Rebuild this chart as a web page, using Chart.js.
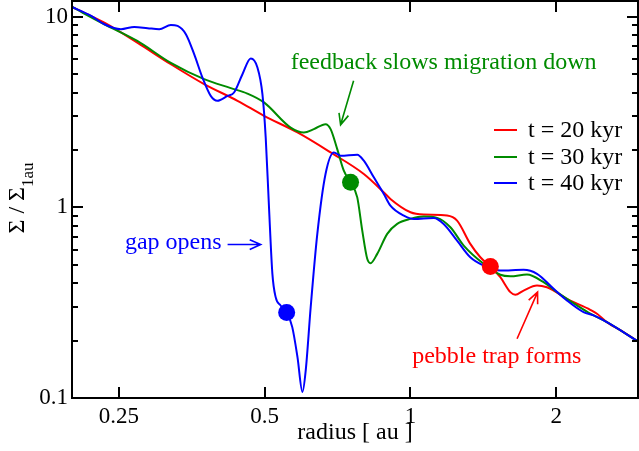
<!DOCTYPE html>
<html>
<head>
<meta charset="utf-8">
<script src="https://cdn.jsdelivr.net/npm/chart.js@4.4.1/dist/chart.umd.min.js"></script>
<style>
  html, body { margin: 0; padding: 0; background: #fff; }
  canvas { display: block; }
</style>
</head>
<body>
<canvas id="sigmaChart" width="639" height="451"></canvas>
<script>
// radius [au] and surface density (normalised to 1 au)
const redR = [0.2, 0.2333, 0.2728, 0.32, 0.3748, 0.4393, 0.4983, 0.5843, 0.684, 0.801, 0.881, 0.909, 1.0, 1.065, 1.19, 1.248, 1.329, 1.394, 1.462, 1.533, 1.608, 1.646, 1.712, 1.825, 1.913, 1.975, 2.104, 2.351, 2.427, 2.544, 2.753, 2.966];
const redS = [11.24, 9.30, 7.31, 5.63, 4.43, 3.62, 3.02, 2.47, 1.941, 1.496, 1.198, 1.107, 0.942, 0.916, 0.905, 0.852, 0.643, 0.547, 0.489, 0.430, 0.359, 0.348, 0.366, 0.389, 0.381, 0.366, 0.331, 0.290, 0.2767, 0.250, 0.2216, 0.1964];

const greenR = [0.2, 0.2333, 0.2728, 0.32, 0.3748, 0.4254, 0.4605, 0.4983, 0.5656, 0.6024, 0.6316, 0.6677, 0.684, 0.7059, 0.7283, 0.752, 0.7764, 0.7951, 0.8141, 0.827, 0.8536, 0.8953, 0.9388, 1.0, 1.065, 1.135, 1.209, 1.288, 1.416, 1.533, 1.608, 1.74, 1.883, 2.007, 2.207, 2.351, 2.544, 2.966];
const greenS = [11.24, 9.12, 7.46, 5.72, 4.70, 4.22, 3.95, 3.55, 2.62, 2.47, 2.57, 2.73, 2.57, 2.02, 1.556, 1.352, 1.128, 0.755, 0.537, 0.509, 0.570, 0.7257, 0.8186, 0.8695, 0.894, 0.880, 0.786, 0.630, 0.5054, 0.4427, 0.435, 0.444, 0.405, 0.359, 0.3057, 0.2767, 0.250, 0.1964];

const blueR = [0.2, 0.2191, 0.2333, 0.2524, 0.2689, 0.2865, 0.3028, 0.32, 0.3304, 0.3437, 0.3575, 0.3719, 0.3868, 0.3993, 0.4189, 0.4322, 0.4498, 0.4679, 0.483, 0.4946, 0.5024, 0.5103, 0.5186, 0.5267, 0.5392, 0.5548, 0.57, 0.5843, 0.5983, 0.6077, 0.6222, 0.6421, 0.6677, 0.6947, 0.7173, 0.7764, 0.801, 0.84, 0.881, 0.909, 0.969, 1.016, 1.117, 1.171, 1.248, 1.329, 1.416, 1.533, 1.712, 1.825, 1.975, 2.104, 2.277, 2.388, 2.544, 2.966];
const blueS = [11.24, 10.09, 9.12, 8.59, 8.83, 8.70, 8.59, 9.05, 8.94, 8.09, 6.36, 4.79, 3.84, 3.62, 3.84, 4.00, 4.99, 6.03, 5.41, 3.92, 2.32, 1.0, 0.448, 0.338, 0.3057, 0.282, 0.2353, 0.1639, 0.1075, 0.1396, 0.2996, 0.7257, 1.496, 1.941, 1.865, 1.888, 1.756, 1.436, 1.175, 1.021, 0.905, 0.8695, 0.880, 0.8186, 0.669, 0.547, 0.495, 0.466, 0.470, 0.448, 0.374, 0.3248, 0.282, 0.271, 0.250, 0.1964];

// planet positions (filled circles)
const planetR = [1.462, 0.752, 0.555];
const planetS = [0.489, 1.352, 0.281];

const seriesLabels = ["t = 20 kyr", "t = 30 kyr", "t = 40 kyr"];
const seriesColors = ["#ff0000", "#008b00", "#0000ff"];

const xTicks = [0.25, 0.5, 1, 2];
const yTicks = [0.1, 1, 10];
const yMinor = [0.2, 0.3, 0.4, 0.5, 0.6, 0.7, 0.8, 0.9, 2, 3, 4, 5, 6, 7, 8, 9];

const FONT = "'Liberation Serif', 'Times New Roman', serif";
Chart.defaults.font.family = FONT;
Chart.defaults.color = "#000";

const toPoints = (rs, ss) => rs.map((r, i) => ({ x: r, y: ss[i] }));

// annotation texts and arrows, anchored in data coordinates
const notes = [
  { text: "feedback slows migration down", color: seriesColors[1], at: [0.5656, 5.32], arrow: [[0.763, 4.61], [0.7173, 2.71]] },
  { text: "gap opens", color: seriesColors[2], at: [0.2572, 0.6057], arrow: [[0.4191, 0.6378], [0.4905, 0.6378]] },
  { text: "pebble trap forms", color: seriesColors[0], at: [1.008, 0.152], arrow: [[1.66, 0.2046], [1.83, 0.359]] },
];

function drawArrow(ctx, x1, y1, x2, y2) {
  const ang = Math.atan2(y2 - y1, x2 - x1);
  const len = 12, spread = 0.42;
  ctx.beginPath();
  ctx.moveTo(x1, y1);
  ctx.lineTo(x2, y2);
  ctx.moveTo(x2 - len * Math.cos(ang - spread), y2 - len * Math.sin(ang - spread));
  ctx.lineTo(x2, y2);
  ctx.lineTo(x2 - len * Math.cos(ang + spread), y2 - len * Math.sin(ang + spread));
  ctx.stroke();
}

const decorations = {
  id: "decorations",
  afterDatasetsDraw(chart) {
    const { ctx, chartArea: a, scales: { x, y } } = chart;
    ctx.save();

    // frame
    ctx.strokeStyle = "#000";
    ctx.lineWidth = 2;
    ctx.strokeRect(a.left, a.top, a.right - a.left, a.bottom - a.top);

    // inward tick marks on all four sides
    ctx.beginPath();
    xTicks.forEach(v => {
      const px = Math.round(x.getPixelForValue(v));
      ctx.moveTo(px, a.bottom); ctx.lineTo(px, a.bottom - 11);
      ctx.moveTo(px, a.top); ctx.lineTo(px, a.top + 11);
    });
    yTicks.concat(yMinor).forEach(v => {
      const py = Math.round(y.getPixelForValue(v));
      const len = yTicks.includes(v) ? 11 : 6;
      ctx.moveTo(a.left, py); ctx.lineTo(a.left + len, py);
      ctx.moveTo(a.right, py); ctx.lineTo(a.right - len, py);
    });
    ctx.stroke();

    // legend inside the plot
    ctx.font = "24px " + FONT;
    ctx.textBaseline = "middle";
    ctx.textAlign = "left";
    [130, 157, 183].forEach((py, i) => {
      ctx.strokeStyle = seriesColors[i];
      ctx.beginPath();
      ctx.moveTo(494, py); ctx.lineTo(517, py);
      ctx.stroke();
      ctx.fillStyle = "#000";
      ctx.fillText(seriesLabels[i], 528, py + 1);
    });

    // annotations
    ctx.textBaseline = "alphabetic";
    notes.forEach(n => {
      ctx.fillStyle = n.color;
      ctx.strokeStyle = n.color;
      ctx.lineWidth = 1.6;
      ctx.fillText(n.text, x.getPixelForValue(n.at[0]), y.getPixelForValue(n.at[1]));
      const [p, q] = n.arrow;
      drawArrow(ctx, x.getPixelForValue(p[0]), y.getPixelForValue(p[1]), x.getPixelForValue(q[0]), y.getPixelForValue(q[1]));
    });

    // y axis title with subscript
    ctx.fillStyle = "#000";
    ctx.translate(23.5, 198);
    ctx.rotate(-Math.PI / 2);
    const main = "\u03A3 / \u03A3", sub = "1au";
    ctx.font = "24px " + FONT;
    const wMain = ctx.measureText(main).width;
    ctx.font = "17px " + FONT;
    const wSub = ctx.measureText(sub).width;
    const start = -(wMain + wSub) / 2;
    ctx.font = "24px " + FONT;
    ctx.fillText(main, start, 0);
    ctx.font = "17px " + FONT;
    ctx.fillText(sub, start + wMain, 9);
    ctx.restore();
  }
};

const lineStyle = color => ({
  borderColor: color,
  backgroundColor: color,
  borderWidth: 2,
  pointRadius: 0,
  cubicInterpolationMode: "monotone",
  fill: false,
});

new Chart(document.getElementById("sigmaChart"), {
  type: "line",
  data: {
    datasets: [
      ...planetR.map((r, i) => ({
        data: [{ x: r, y: planetS[i] }],
        showLine: false,
        pointRadius: 8.5,
        pointBorderWidth: 0,
        pointBackgroundColor: seriesColors[i],
        pointBorderColor: seriesColors[i],
      })),
      { label: seriesLabels[2], data: toPoints(blueR, blueS), ...lineStyle(seriesColors[2]) },
      { label: seriesLabels[1], data: toPoints(greenR, greenS), ...lineStyle(seriesColors[1]) },
      { label: seriesLabels[0], data: toPoints(redR, redS), ...lineStyle(seriesColors[0]) },
    ],
  },
  options: {
    responsive: false,
    animation: false,
    layout: { autoPadding: false, padding: { top: 1, right: 1, left: 0, bottom: 0 } },
    plugins: { legend: { display: false }, tooltip: { enabled: false } },
    scales: {
      x: {
        type: "logarithmic",
        min: 0.2,
        max: 2.95,
        grid: { display: false, drawTicks: false },
        border: { display: false },
        afterBuildTicks: s => { s.ticks = xTicks.map(v => ({ value: v })); },
        afterFit: s => { s.height = 53; s.paddingLeft = 0; s.paddingRight = 0; },
        ticks: { font: { size: 23 }, padding: 5, maxRotation: 0, autoSkip: false, callback: v => String(v) },
        title: { display: true, text: "radius [ au ]", font: { size: 24 }, padding: { top: 0, bottom: 4 } },
      },
      y: {
        type: "logarithmic",
        min: 0.1,
        max: 12.08,
        grid: { display: false, drawTicks: false },
        border: { display: false },
        afterBuildTicks: s => { s.ticks = yTicks.map(v => ({ value: v })); },
        afterFit: s => { s.width = 72; s.paddingTop = 0; s.paddingBottom = 0; },
        ticks: { font: { size: 23 }, padding: 4, autoSkip: false, callback: v => String(v) },
      },
    },
  },
  plugins: [decorations],
});
</script>
</body>
</html>
